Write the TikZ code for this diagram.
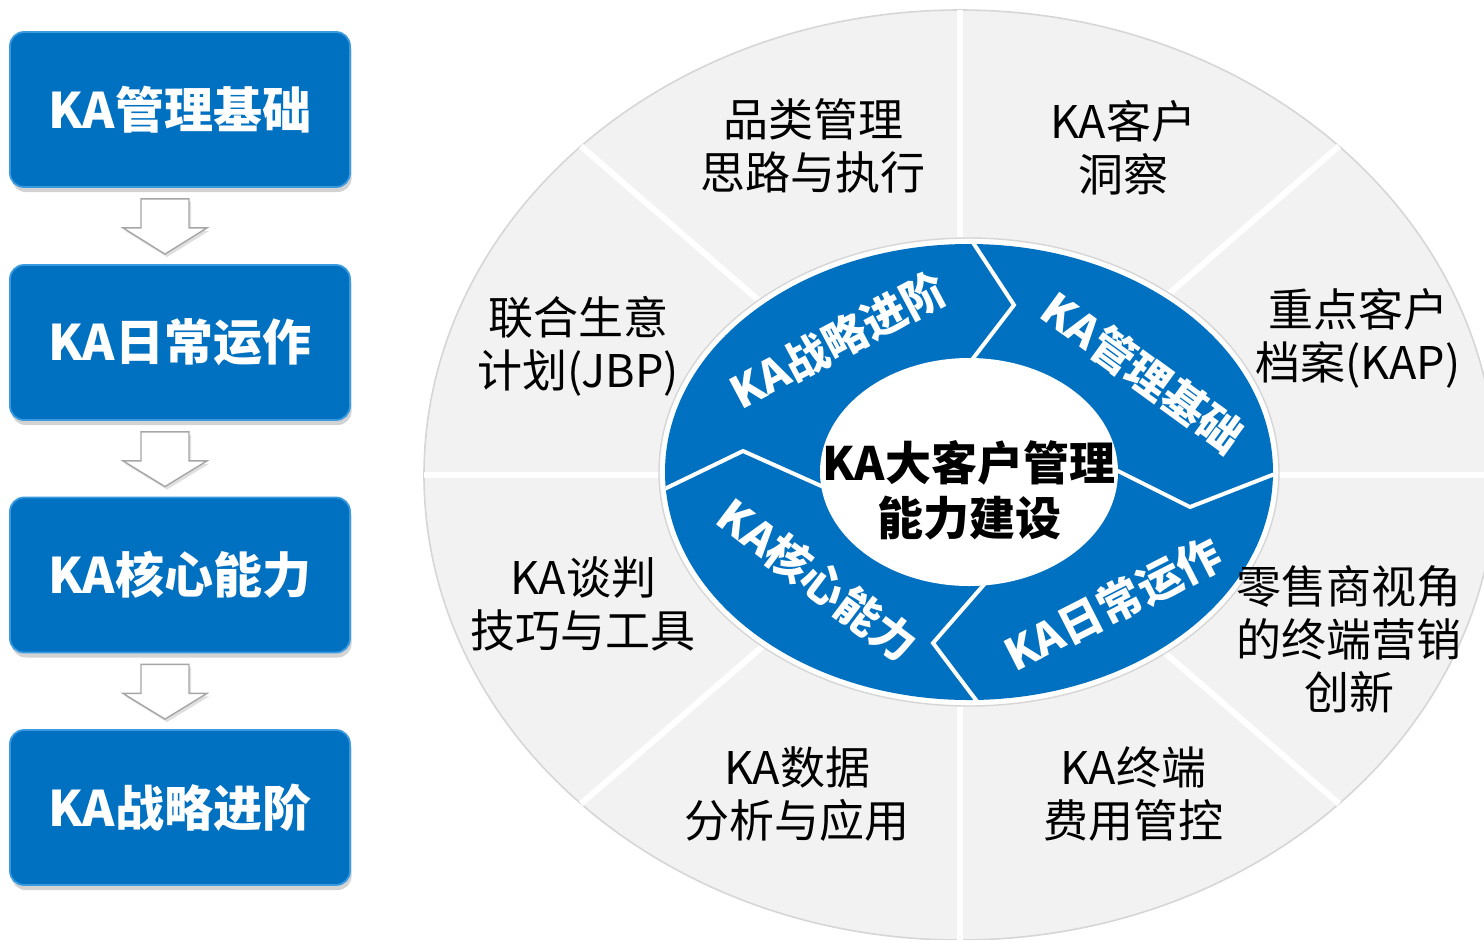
\documentclass[tikz,border=0pt]{standalone}
\usepackage{fontspec}
\setmainfont{Noto Sans CJK SC}
\usetikzlibrary{calc,shadows}
\definecolor{kablue}{HTML}{0070C0}
\definecolor{kaedge}{HTML}{3A9AE0}
\definecolor{sectgray}{HTML}{F2F2F2}
\definecolor{rimgray}{HTML}{D6D6D6}
\begin{document}
\begin{tikzpicture}[x=0.5pt,y=-0.5pt,
  kabox/.style={draw=kaedge, line width=0.9pt, fill=kablue, rounded corners=7pt,
    minimum width=170pt, minimum height=77.5pt, inner sep=0pt, text=white,
    font=\bfseries\fontsize{24.5pt}{28pt}\selectfont,
    drop shadow={shadow xshift=0.8pt, shadow yshift=-2.5pt, opacity=0.35}},
  hollow/.style={fill=white, draw=black!35, line width=0.7pt, line join=miter,
    drop shadow={shadow xshift=1pt, shadow yshift=-1.5pt, opacity=0.25}},
  divider/.style={white, line width=3pt},
  sepline/.style={white, line width=2pt, line join=miter},
  secttxt/.style={align=center, inner sep=0pt, font=\fontsize{22.5pt}{26.5pt}\selectfont},
  ringtxt/.style={inner sep=0pt, text=white, font=\bfseries\fontsize{22pt}{26pt}\selectfont},
  centertxt/.style={align=center, inner sep=0pt, font=\bfseries\fontsize{23pt}{27.5pt}\selectfont}
]
\useasboundingbox (0,0) rectangle (1484,939);

% ---------- left column ----------
\node[kabox] (b1) at (180,109.5) {KA管理基础};
\node[kabox] (b2) at (180,342.5) {KA日常运作};
\node[kabox] (b3) at (180,575)   {KA核心能力};
\node[kabox] (b4) at (180,807.5) {KA战略进阶};

\foreach \u/\v in {b1/b2,b2/b3,b3/b4}{
  \path ($(\u.south)+(-15,0)$) coordinate (\u s) ($(\v.north)+(-15,0)$) coordinate (\v e);
  \draw[hollow] ($(\u s)+(-24,11)$) -- ($(\u s)+(24,11)$) -- ($(\u s)+(24,40)$)
     -- ($(\u s)+(42,40)$) -- ($(\v e)+(0,-10)$) -- ($(\u s)+(-42,40)$)
     -- ($(\u s)+(-24,40)$) -- cycle;
}

% ---------- big segmented ellipse ----------
\coordinate (C) at (960,475);
\fill[sectgray] (C) ellipse [x radius=268pt, y radius=232.5pt];
\draw[rimgray, line width=0.8pt] (C) ellipse [x radius=268pt, y radius=232.5pt];
\foreach \a in {0,45,...,315}{
  \coordinate (d\a) at ($(C)+(\a:268pt and 232.5pt)$);
  \draw[divider] (C) -- (d\a);
}

% ---------- blue ring ----------
\coordinate (R) at (969,472);
\draw[rimgray, line width=0.7pt] (R) ellipse [x radius=155pt, y radius=117pt];
\fill[white] (R) ellipse [x radius=154.5pt, y radius=116.5pt];
\fill[kablue] (R) ellipse [x radius=152pt, y radius=114pt];
\fill[white] (R) ellipse [x radius=74.5pt, y radius=57pt];

\begin{scope}
  \clip (R) ellipse [x radius=152pt, y radius=114pt];
  \coordinate (t1) at (968,235);  \coordinate (t2) at (1014,305); \coordinate (t3) at (968,365);
  \coordinate (r1) at (1110,467); \coordinate (r2) at (1190,507); \coordinate (r3) at (1285,470);
  \coordinate (u1) at (988,580);  \coordinate (u2) at (933,643);  \coordinate (u3) at (985,712);
  \coordinate (l1) at (652,495);  \coordinate (l2) at (743,451);  \coordinate (l3) at (828,489);
  \draw[sepline] (t1) -- (t2) -- (t3);
  \draw[sepline] (r1) -- (r2) -- (r3);
  \draw[sepline] (u1) -- (u2) -- (u3);
  \draw[sepline] (l1) -- (l2) -- (l3);
\end{scope}

% ---------- ring labels ----------
\node[ringtxt, rotate=28]  (g1) at (838,340)  {KA战略进阶};
\node[ringtxt, rotate=-36] (g2) at (1143,372) {KA管理基础};
\node[ringtxt, rotate=27]  (g3) at (1113,604) {KA日常运作};
\node[ringtxt, rotate=-37] (g4) at (818,580)  {KA核心能力};

\node[centertxt] (ctr) at (969,490) {KA大客户管理\\能力建设};

% ---------- sector labels ----------
\node[secttxt] (s1) at (813,146)  {品类管理\\思路与执行};
\node[secttxt] (s2) at (1123,148) {KA客户\\洞察};
\node[secttxt] (s3) at (1358,338) {重点客户\\档案(KAP)};
\node[secttxt] (s4) at (1349,639) {零售商视角\\的终端营销\\创新};
\node[secttxt] (s5) at (1133,794) {KA终端\\费用管控};
\node[secttxt] (s6) at (797,794)  {KA数据\\分析与应用};
\node[secttxt] (s7) at (583,604)  {KA谈判\\技巧与工具};
\node[secttxt] (s8) at (578,346)  {联合生意\\计划(JBP)};
\end{tikzpicture}
\end{document}
